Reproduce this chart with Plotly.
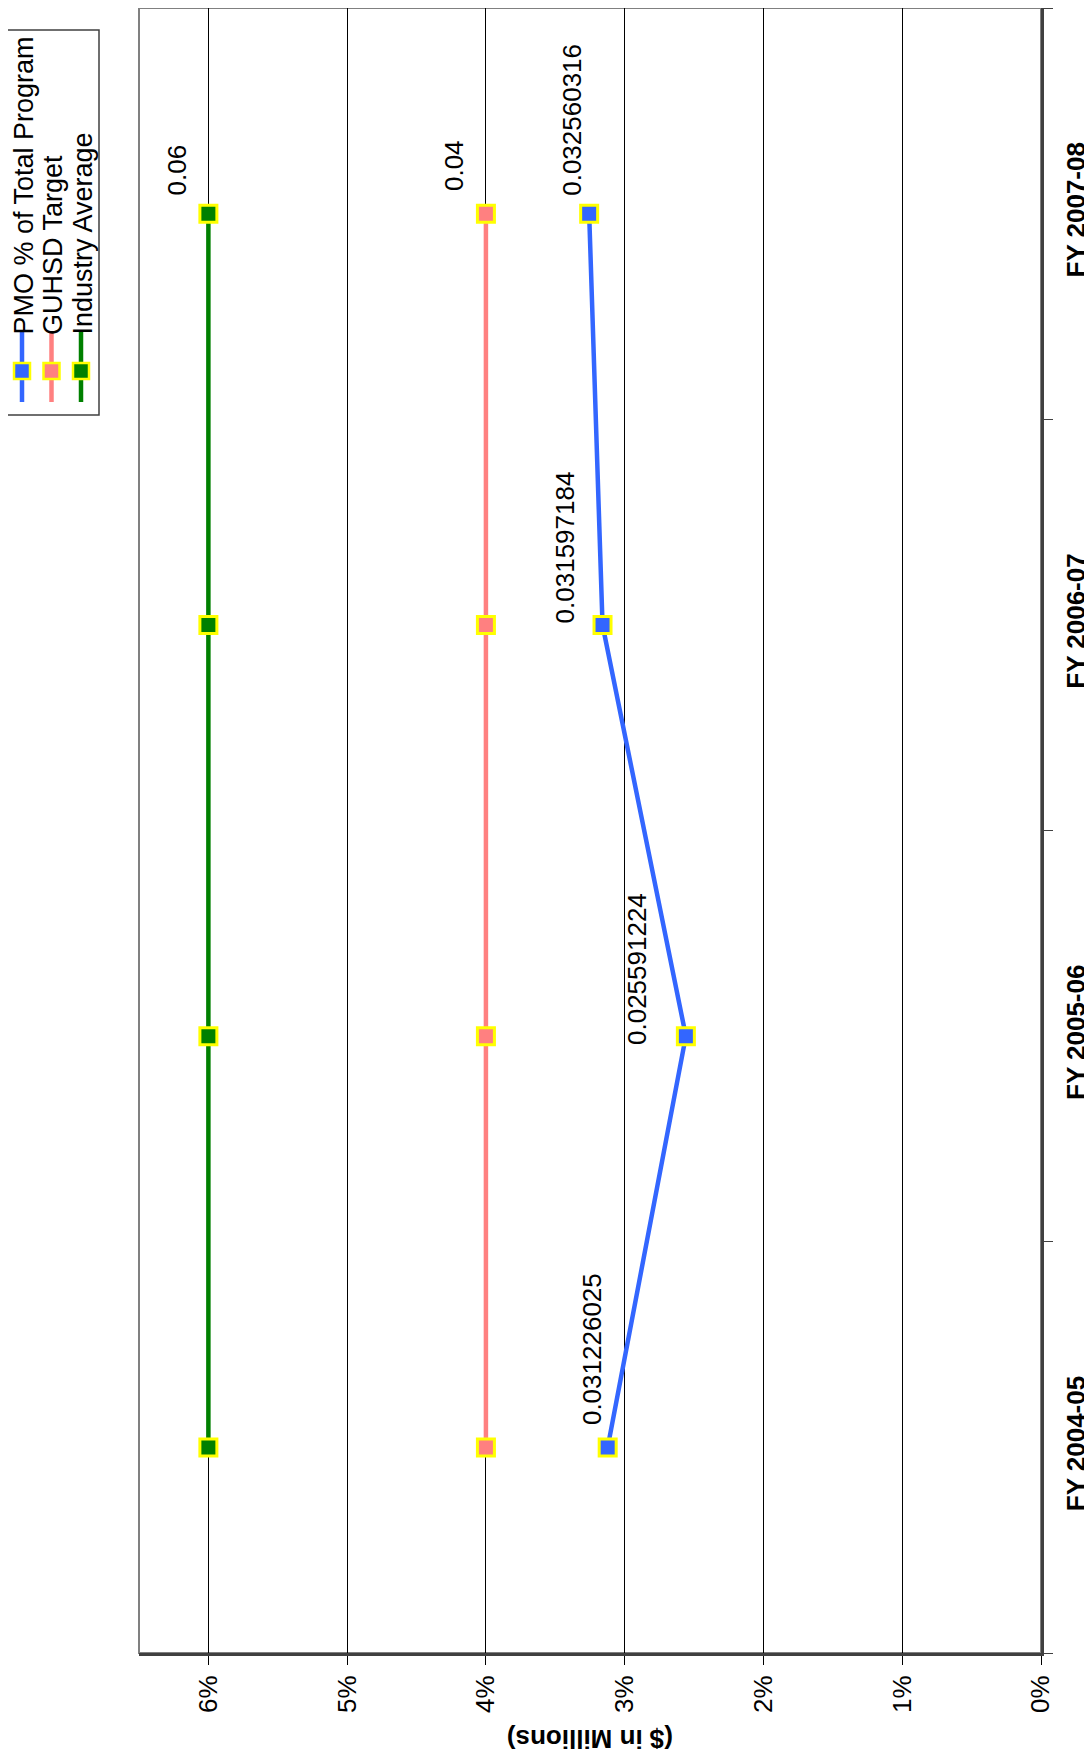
import plotly.graph_objects as go

# data
years = ["FY 2004-05", "FY 2005-06", "FY 2006-07", "FY 2007-08"]
pmo_pct = [0.031226025, 0.025591224, 0.031597184, 0.032560316]
guhsd_target = [0.04, 0.04, 0.04, 0.04]
industry_avg = [0.06, 0.06, 0.06, 0.06]
series_names = ["PMO % of Total Program", "GUHSD Target", "Industry Average"]
tick_vals = [0, 0.01, 0.02, 0.03, 0.04, 0.05, 0.06]

FONT = "Liberation Sans, Arial, sans-serif"
colors = ["#3366FF", "#FF8080", "#008000"]
W, H = 1092, 1760
OFF = 8  # page body margin
L, R, T, B = 131, 59, 0, 115

fig = go.Figure()
for name, vals, col in zip(series_names, [pmo_pct, guhsd_target, industry_avg], colors):
    fig.add_trace(go.Scatter(x=vals, y=years, name=name, mode="lines+markers",
                             line=dict(color=col, width=4.5),
                             marker=dict(symbol="square", size=17, color=col,
                                         line=dict(color="#FFFF00", width=3)),
                             showlegend=False, cliponaxis=False))

# data labels: (series values, indices to label, nudge in px for each labelled point)
label_specs = [
    (industry_avg, {3: (-14, 16)}),
    (guhsd_target, {3: (-15, 21)}),
    (pmo_pct, {0: (2, 20), 1: (-32, -11), 2: (-21, -1), 3: (-1, 16)}),
]
for vals, which in label_specs:
    for i, (dx, dy) in which.items():
        fig.add_annotation(x=vals[i], y=years[i], text=str(vals[i]), showarrow=False,
                           textangle=-90, xanchor="right", yanchor="bottom",
                           xshift=dx, yshift=dy, font=dict(family=FONT, size=26, color="black"))

# helpers: page pixel -> paper coords
pw, ph = W - L - R, H - T - B
def px_x(p): return (p - OFF - L) / pw
def px_y(p): return (H - B - (p - OFF)) / ph

# axis title, printed upside down
fig.add_annotation(xref="paper", yref="paper", x=0.5, y=px_y(1739), text="<b>($ in Millions)</b>",
                   showarrow=False, textangle=180, xanchor="center", yanchor="middle",
                   font=dict(family=FONT, size=26, color="black"))

# plot border (top / left gray)
fig.add_shape(type="rect", xref="paper", yref="paper", x0=0, x1=1, y0=0, y1=1,
              line=dict(color="#808080", width=2), layer="below")

# hand-drawn rotated legend
fig.add_shape(type="rect", xref="paper", yref="paper", x0=px_x(6), x1=px_x(99),
              y0=px_y(415), y1=px_y(30), line=dict(color="#404040", width=1.5),
              fillcolor="white")
for i, (name, col) in enumerate(zip(series_names, colors)):
    cx = 22 + 29.5 * i
    fig.add_shape(type="line", xref="paper", yref="paper", x0=px_x(cx), x1=px_x(cx),
                  y0=px_y(332), y1=px_y(402), line=dict(color=col, width=4.5))
    fig.add_shape(type="rect", xref="paper", yref="paper", x0=px_x(cx - 8), x1=px_x(cx + 8),
                  y0=px_y(379), y1=px_y(363), fillcolor=col, line=dict(color="#FFFF00", width=2.5))
    fig.add_annotation(xref="paper", yref="paper", x=px_x(cx + 1.5), y=px_y(337), text=name,
                       showarrow=False, textangle=-90, xanchor="center", yanchor="bottom",
                       font=dict(family=FONT, size=27, color="black"))

fig.update_layout(
    width=W, height=H, margin=dict(l=L, r=R, t=T, b=B, autoexpand=False),
    paper_bgcolor="white", plot_bgcolor="white", showlegend=False,
    font=dict(family=FONT, size=26, color="black"),
    xaxis=dict(range=[0.065, 0], tickvals=tick_vals, tickformat=".0%", tickangle=-90,
               automargin=False,
               showgrid=True, gridcolor="#000000", gridwidth=1, zeroline=False,
               showline=True, linecolor="#404040", linewidth=3,
               ticks="outside", ticklen=9, tickcolor="#000000",
               tickfont=dict(family=FONT, size=26)),
    yaxis=dict(side="right", categoryorder="array", categoryarray=years,
               automargin=False,
               tickangle=-90, tickson="boundaries", ticks="outside", ticklen=9,
               tickcolor="#404040", showgrid=False, zeroline=False,
               showline=True, linecolor="#404040", linewidth=3,
               range=[-0.5, 3.5], ticklabelstandoff=10,
               tickfont=dict(family=FONT, size=26, color="black", weight="bold")),
)

fig.write_html("out.html")
